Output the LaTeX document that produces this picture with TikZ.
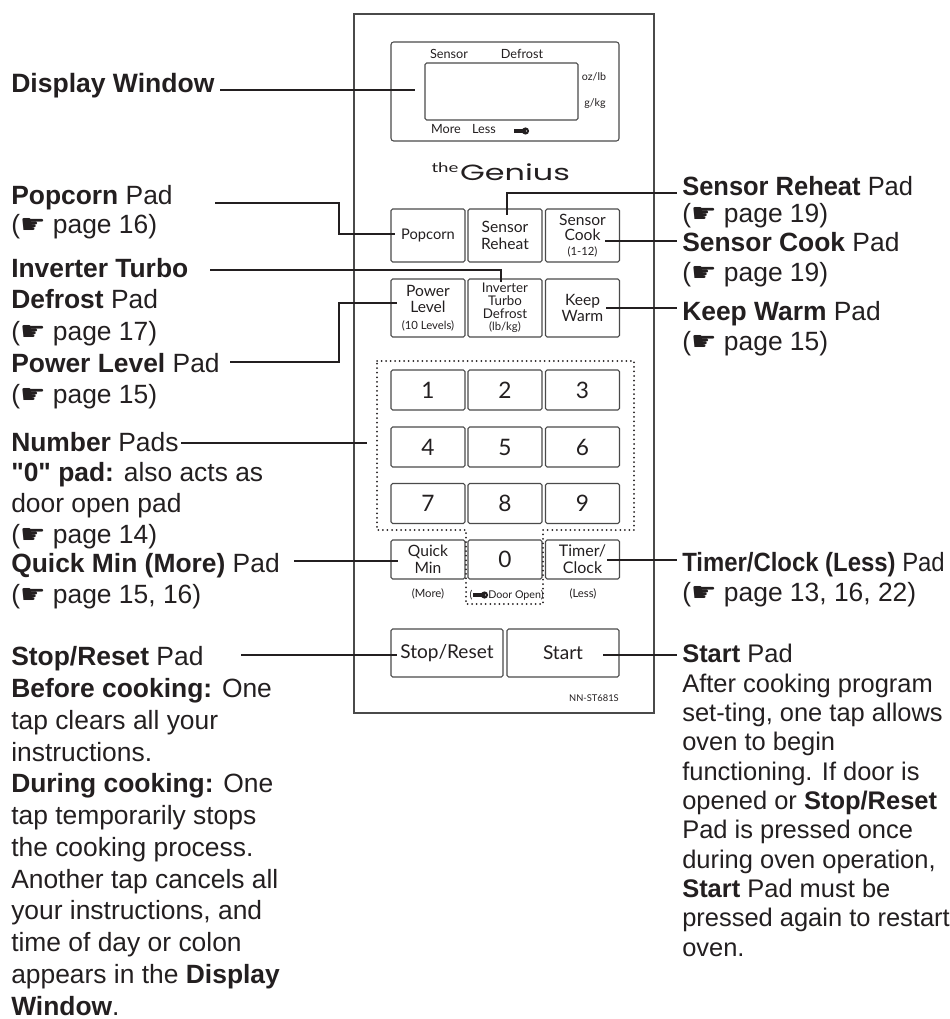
\documentclass[tikz,border=0pt]{standalone}
\usepackage{fontspec}
\setmainfont{Liberation Sans}
\newfontfamily\panelfont{Lato}
\newfontfamily\handfont{DejaVu Sans}
\newfontfamily\logofont{Poppins}
\newfontfamily\quotefont{Liberation Sans}
\definecolor{ink}{HTML}{231F20}
\definecolor{rim}{HTML}{4A4A4A}
\newcommand{\hand}{\scalebox{1.08}[1]{\handfont\symbol{"261B}}}
\newcommand{\smalltext}[1]{{\fontsize{8.5}{9}\selectfont #1}}
\tikzstyle{pad}=[draw=rim,line width=0.8pt,rounded corners=1.2pt,inner sep=0pt,align=center,text=ink,font=\panelfont\fontsize{11.7}{12.5}\selectfont]
\tikzstyle{numberpad}=[pad,minimum width=55.5pt,minimum height=30pt,font=\panelfont\fontsize{17}{18}\selectfont]
\tikzstyle{padlabel}=[anchor=base west,align=left,inner sep=0pt,text=ink]
\tikzstyle{paneltext}=[inner sep=0pt,text=ink,font=\panelfont\fontsize{9.5}{11}\selectfont]
\tikzstyle{leader}=[ink,line width=0.8pt]
% the y given is the baseline of the last line
\newcommand{\padlabel}[6]{
\node[padlabel,font=\fontsize{#4}{#5}\selectfont] (#1) at (#2,#3) {#6};
}
\newcommand{\drawkey}[2]{
\fill[ink] (#1,#2-1.6) rectangle (#1+10,#2+1.6);
\fill[ink] (#1+11.5,#2) circle (3.6);
\fill[white] (#1+12.5,#2) circle (0.7);
}
\begin{document}
\begin{tikzpicture}[x=0.75pt,y=-0.75pt]
	\useasboundingbox (0,0) rectangle (949,1019);
	% panel and display
	\draw[rim,line width=0.85pt] (354,14) rectangle (654,713);
	\draw[rim,line width=0.8pt,rounded corners=2pt] (391,42) rectangle (619,141);
	\draw[rim,line width=0.8pt,rounded corners=1.2pt] (425,63) rectangle (578,120);
	\node[paneltext] (sensorword) at (449,54) {Sensor};
	\node[paneltext] (defrostword) at (522,54) {Defrost};
	\node[paneltext,font=\panelfont\fontsize{8}{9}\selectfont] (ozlb) at (594,77) {oz/lb};
	\node[paneltext,font=\panelfont\fontsize{8}{9}\selectfont] (gkg) at (595,104) {g/kg};
	\node[paneltext] (moreword) at (446,129) {More};
	\node[paneltext] (lessword) at (484,129) {Less};
	\drawkey{514}{131}
	\node[paneltext,font=\panelfont\fontsize{10}{12}\selectfont] (theword) at (445,168) {\scalebox{1.4}[1]{the}};
	\node[paneltext,font=\logofont\fontsize{16.5}{18}\selectfont] (geniusword) at (515,172) {\scalebox{1.45}[1]{Genius}};
	% pads
	\node[pad,minimum width=55.5pt,minimum height=39.75pt,font=\panelfont\fontsize{11}{12.5}\selectfont] (popcorn) at (428,235.5) {Popcorn};
	\node[pad,minimum width=55.5pt,minimum height=39.75pt] (reheat) at (505,235.5) {Sensor\\Reheat};
	\node[pad,minimum width=55.5pt,minimum height=39.75pt,font=\panelfont\fontsize{11.7}{11.2}\selectfont] (cook) at (582.5,235.5) {Sensor\\Cook\\\smalltext{(1-12)}};
	\node[pad,minimum width=55.5pt,minimum height=43.5pt] (power) at (428,308) {Power\\Level\\\smalltext{(10 Levels)}};
	\node[pad,minimum width=55.5pt,minimum height=43.5pt,font=\panelfont\fontsize{10}{9.5}\selectfont] (inverter) at (505,308) {Inverter\\Turbo\\Defrost\\\smalltext{(lb/kg)}};
	\node[pad,minimum width=55.5pt,minimum height=43.5pt] (warm) at (582.5,308) {Keep\\Warm};
	\foreach \i/\x/\y in {1/428/390,2/505/390,3/582.5/390,4/428/447,5/505/447,6/582.5/447,7/428/503.5,8/505/503.5,9/582.5/503.5} {
		\node[numberpad] (pad\i) at (\x,\y) {\i};
	}
	\node[pad,minimum width=55.5pt,minimum height=29.25pt,font=\panelfont\fontsize{11.7}{12.5}\selectfont] (quick) at (428,559.5) {Quick\\Min};
	\node[numberpad,minimum height=29.25pt] (pad0) at (505,559.5) {0};
	\node[pad,minimum width=55.5pt,minimum height=29.25pt,font=\panelfont\fontsize{12}{12.5}\selectfont] (timer) at (582.5,559.5) {Timer/\\Clock};
	\node[paneltext,font=\panelfont\fontsize{8.5}{9}\selectfont] (moretag) at (428,594) {(More)};
	\node[paneltext,font=\panelfont\fontsize{8}{9}\selectfont] (openparen) at (471,595) {(};
	\drawkey{473}{595}
	\node[paneltext,font=\panelfont\fontsize{8}{9}\selectfont,anchor=west] (doortag) at (488,595) {Door Open)};
	\node[paneltext,font=\panelfont\fontsize{8.5}{9}\selectfont] (lesstag) at (583,594) {(Less)};
	\node[pad,minimum width=84pt,minimum height=36pt,font=\panelfont\fontsize{14.3}{15}\selectfont] (stop) at (447,653) {Stop/Reset};
	\node[pad,minimum width=84pt,minimum height=36pt,font=\panelfont\fontsize{14.3}{15}\selectfont] (start) at (563,653) {Start};
	\node[paneltext,font=\panelfont\fontsize{7}{8}\selectfont,anchor=east] (model) at (619,698) {NN-ST681S};
	% dotted frame
	\draw[ink,line width=1.5pt,line cap=round,dash pattern=on 0pt off 3.4pt] (377,361) -- (634,361) -- (634,530) -- (543,530) -- (543,604) -- (466,604) -- (466,530) -- (377,530) -- cycle;
	% labels
	\padlabel{displaylabel}{11}{93}{19.9}{20}{\textbf{Display Window}}
	\padlabel{popcornlabel}{11}{234}{19.8}{21.75}{\textbf{Popcorn} Pad\\(\hand{} page 16)}
	\padlabel{inverterlabel}{11}{340}{19.8}{23.6}{\textbf{Inverter Turbo}\\\textbf{Defrost} Pad\\(\hand{} page 17)}
	\padlabel{powerlabel}{11}{403}{19.8}{23.25}{\textbf{Power Level} Pad\\(\hand{} page 15)}
	\padlabel{numberlabel}{11}{543}{19.8}{22.9}{\textbf{Number} Pads\\{\quotefont\bfseries "0"} \textbf{pad:} also acts as\\door open pad\\(\hand{} page 14)}
	\padlabel{quicklabel}{11}{603}{19.8}{23.25}{\textbf{Quick Min (More)} Pad\\(\hand{} page 15, 16)}
	\padlabel{stoplabel}{11}{1015}{19.8}{23.8}{\textbf{Stop/Reset} Pad\\\textbf{Before cooking:} One\\tap clears all your\\instructions.\\\textbf{During cooking:} One\\tap temporarily stops\\the cooking process.\\Another tap cancels all\\your instructions, and\\time of day or colon\\appears in the \textbf{Display}\\\textbf{Window}.}
	\padlabel{reheatlabel}{682}{223}{19.8}{20.25}{\scalebox{0.965}[1]{\textbf{Sensor Reheat} Pad}\\(\hand{} page 19)}
	\padlabel{cooklabel}{682}{282}{19.8}{22.5}{\textbf{Sensor Cook} Pad\\(\hand{} page 19)}
	\padlabel{warmlabel}{682}{350}{19.8}{22.5}{\textbf{Keep Warm} Pad\\(\hand{} page 15)}
	\padlabel{timerlabel}{682}{601}{19.8}{22.5}{\scalebox{0.905}[1]{\textbf{Timer/Clock (Less)} Pad}\\(\hand{} page 13, 16, 22)}
	\padlabel{startlabel}{682}{956}{19.1}{22}{\textbf{Start} Pad\\After cooking program\\set-ting, one tap allows\\oven to begin\\functioning. If door is\\opened or \textbf{Stop/Reset}\\Pad is pressed once\\during oven operation,\\\textbf{Start} Pad must be\\pressed again to restart\\oven.}
	% leaders
	\coordinate (displayfrom) at (220,90);
	\coordinate (displayto) at (415,90);
	\coordinate (popcornfrom) at (215,203);
	\coordinate (popcornbend) at (339,234);
	\coordinate (popcornto) at (395,234);
	\coordinate (inverterfrom) at (210,270);
	\coordinate (inverterto) at (501,282);
	\coordinate (powerfrom) at (230,362);
	\coordinate (powerbend) at (339,303);
	\coordinate (powerto) at (397,303);
	\coordinate (numberfrom) at (181,443);
	\coordinate (numberto) at (367,443);
	\coordinate (quickfrom) at (294,561);
	\coordinate (quickto) at (398,561);
	\coordinate (stopfrom) at (241,655);
	\coordinate (stopto) at (397,655);
	\coordinate (reheatfrom) at (507,215);
	\coordinate (reheatto) at (677,193);
	\coordinate (cookfrom) at (605,241);
	\coordinate (cookto) at (677,241);
	\coordinate (warmfrom) at (606,308);
	\coordinate (warmto) at (677,308);
	\coordinate (timerfrom) at (607,560);
	\coordinate (timerto) at (677,560);
	\coordinate (startfrom) at (603,655);
	\coordinate (startto) at (677,655);
	\draw[leader] (displayfrom) -- (displayto);
	\draw[leader] (popcornfrom) -| (popcornbend) -- (popcornto);
	\draw[leader] (inverterfrom) -| (inverterto);
	\draw[leader] (powerfrom) -| (powerbend) -- (powerto);
	\draw[leader] (numberfrom) -- (numberto);
	\draw[leader] (quickfrom) -- (quickto);
	\draw[leader] (stopfrom) -- (stopto);
	\draw[leader] (reheatfrom) |- (reheatto);
	\draw[leader] (cookfrom) -- (cookto);
	\draw[leader] (warmfrom) -- (warmto);
	\draw[leader] (timerfrom) -- (timerto);
	\draw[leader] (startfrom) -- (startto);
\end{tikzpicture}
\end{document}
